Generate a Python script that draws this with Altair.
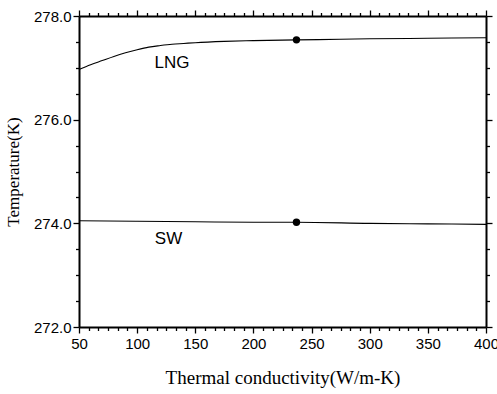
import altair as alt
import numpy as np
import pandas as pd

# Plate temperature vs. thermal conductivity of the fin material
lng_k = [50, 60, 70, 80, 90, 100, 110, 120, 130, 140, 150, 175, 200, 237, 275, 300, 350, 400]
lng_t = [276.97, 277.06, 277.14, 277.22, 277.29, 277.35, 277.40, 277.43, 277.455, 277.47,
         277.485, 277.51, 277.525, 277.54, 277.55, 277.56, 277.57, 277.58]

sw_k = [50, 100, 150, 200, 237, 300, 350, 400]
sw_t = [274.05, 274.04, 274.03, 274.02, 274.02, 274.00, 273.99, 273.98]

# highlighted design point (aluminium, k = 237)
mark_k = [237, 237]
mark_t = [277.54, 274.02]

label_text = ["LNG", "SW"]
label_k = [130, 127]
label_t = [277.09, 273.69]

# tick positions: majors are labelled, the rest are minor ticks
x_ticks = [round(float(v), 3) for v in np.linspace(50, 400, 43)]
y_ticks = [round(float(v), 2) for v in np.arange(272, 278.01, 0.5)]

x_title = "Thermal conductivity(W/m-K)"
y_title = "Temperature(K)"

W, H = 407, 311
XDOM, YDOM = [50, 400], [272, 278]

lines = pd.DataFrame({
    "k": lng_k + sw_k,
    "T": lng_t + sw_t,
    "fluid": ["LNG"] * len(lng_k) + ["SW"] * len(sw_k),
})
pts = pd.DataFrame({"k": mark_k, "T": mark_t})
labels = pd.DataFrame({"k": label_k, "T": label_t, "txt": label_text})

xs = alt.Scale(domain=XDOM, nice=False, zero=False)
ys = alt.Scale(domain=YDOM, nice=False, zero=False)

X_MAJOR = "datum.value % 50 === 0"
Y_MAJOR = "datum.value % 2 === 0"

common = dict(
    grid=False, domain=True, domainColor="black", domainWidth=2,
    ticks=True, tickColor="black", tickWidth=1.3,
    labelFont="Liberation Sans", labelFontSize=15, labelColor="black",
    labelFlush=False, labelBound=False, labelOverlap=False,
)

x_bottom = alt.Axis(
    orient="bottom", values=x_ticks,
    tickSize={"condition": {"test": X_MAJOR, "value": 6}, "value": 3.5},
    labelExpr=f"{X_MAJOR} ? datum.label : ''", labelPadding=3,
    title=x_title, titleFont="Liberation Serif", titleFontSize=19,
    titleFontWeight="normal", titleColor="black", titleBaseline="alphabetic",
    titleY=56, titleX=W / 2, **common,
)
y_left = alt.Axis(
    orient="left", values=y_ticks,
    tickSize={"condition": {"test": Y_MAJOR, "value": 6}, "value": 3.5},
    labelExpr=f"{Y_MAJOR} ? datum.label : ''", labelPadding=2,
    title=y_title, titleFont="Liberation Serif", titleFontSize=17,
    titleFontWeight="normal", titleColor="black", titleAngle=270,
    titleBaseline="middle", titleX=-66, titleY=H / 2, **common,
)
x_top = alt.Axis(
    orient="top", values=x_ticks,
    tickSize={"condition": {"test": X_MAJOR, "value": 6}, "value": 3.5},
    labels=False, title=None, **common,
)
y_right = alt.Axis(
    orient="right", values=y_ticks,
    tickSize={"condition": {"test": Y_MAJOR, "value": 6}, "value": 3.5},
    labels=False, title=None, **common,
)

curves = alt.Chart(lines).mark_line(color="black", strokeWidth=1.1, interpolate="monotone").encode(
    x=alt.X("k:Q", scale=xs, axis=x_bottom),
    y=alt.Y("T:Q", scale=ys, axis=y_left),
    detail="fluid:N",
)

dots = alt.Chart(pts).mark_point(filled=True, color="black", size=55, opacity=1).encode(
    x=alt.X("k:Q", scale=xs, axis=x_top),
    y=alt.Y("T:Q", scale=ys, axis=y_right),
)

texts = alt.Chart(labels).mark_text(
    font="Liberation Sans", fontSize=17, color="black", align="center", baseline="middle"
).encode(
    x=alt.X("k:Q", scale=xs, axis=None),
    y=alt.Y("T:Q", scale=ys, axis=None),
    text="txt:N",
)

chart = alt.layer(curves, dots, texts).resolve_axis(
    x="independent", y="independent"
).properties(
    width=W, height=H,
    background="white",
    autosize=alt.AutoSizeParams(type="none"),
    padding={"left": 79, "top": 16, "right": 11, "bottom": 67},
).configure_view(
    stroke=None
)

chart.save("out.html", embed_options={"renderer": "svg", "actions": False})
